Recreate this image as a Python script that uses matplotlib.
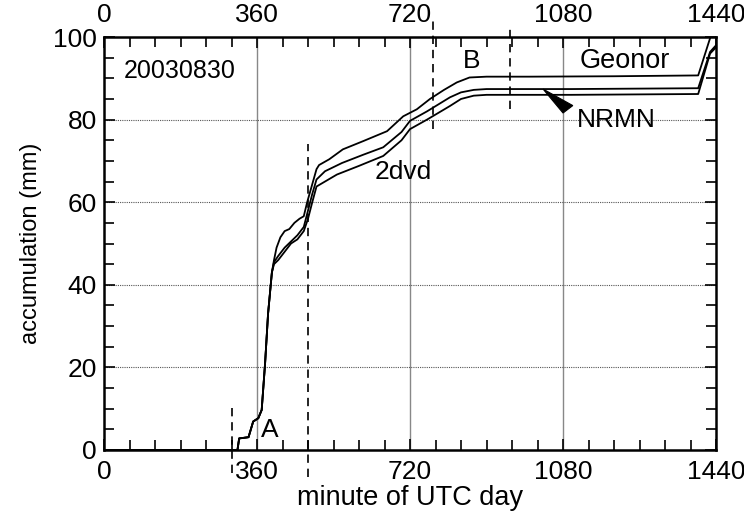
import matplotlib
matplotlib.use("Agg")
import matplotlib.pyplot as plt
from matplotlib.ticker import MultipleLocator
from matplotlib.patches import Polygon

plt.rcParams['font.family'] = ['Liberation Sans', 'DejaVu Sans']

# ---- data (minute of UTC day, accumulation mm) ----
t_start = [0, 314, 318, 340, 351, 363, 371, 379, 386, 395]
v_start = [0, 0, 2.8, 3.1, 6.9, 7.7, 9.7, 21, 33, 43]

t_geonor = [400, 406, 415, 425, 436, 448, 460, 470, 478, 489, 500, 506, 530, 562,
            610, 666, 704, 736, 767, 800, 830, 860, 900, 1000, 1200, 1398, 1430]
v_geonor = [46, 49, 51.5, 53, 53.5, 55, 56, 56.6, 60, 64, 68, 69, 70.4, 72.8,
            74.8, 77.2, 80.8, 82.5, 85, 87.2, 89, 90.2, 90.4, 90.4, 90.5, 90.7, 101]

t_nrmn = [400, 410, 425, 440, 455, 470, 480, 490, 500, 520, 560, 610, 657, 700,
          720, 760, 814, 840, 870, 900, 1100, 1398, 1426, 1440]
v_nrmn = [45.5, 47, 49, 50.5, 52, 54, 58, 62, 65.5, 67.5, 69.5, 71.5, 73.3, 77,
          79.7, 82, 85.4, 86.6, 87.2, 87.4, 87.4, 87.6, 96.4, 98]

t_2dvd = [400, 410, 425, 440, 455, 470, 480, 490, 500, 548, 600, 657, 700,
          720, 760, 814, 840, 870, 900, 1100, 1398, 1426, 1440]
v_2dvd = [45, 46, 48, 50, 51, 53, 56, 60, 63.8, 66.7, 68.8, 71.2, 75,
          77.7, 80, 83.3, 85, 85.8, 86, 86, 86.2, 96, 97.5]

# event boundary markers (minute, y bottom, y top)
event_minutes = [300, 480, 773, 956]
event_ybottom = [-5.5, -6.5, 77.7, 82.5]
event_ytop = [10.2, 74, 104.6, 103]

xticks = [0, 360, 720, 1080, 1440]
yticks = [0, 20, 40, 60, 80, 100]

fig = plt.figure(figsize=(7.44, 5.17), dpi=100)
ax = fig.add_axes([0.1398, 0.1296, 0.8226, 0.7988])

# grid
for xv in [360, 720, 1080]:
    ax.axvline(xv, color='#888888', lw=1.0, zorder=1)
for yv in [20, 40, 60, 80]:
    ax.axhline(yv, color='#555555', lw=0.8, ls=(0, (1, 1)), zorder=1)

for t, v in [(t_geonor, v_geonor), (t_nrmn, v_nrmn), (t_2dvd, v_2dvd)]:
    ax.plot(t_start + t, v_start + v, color='black', lw=1.3, zorder=3)

for xm, yb, yt in zip(event_minutes, event_ybottom, event_ytop):
    ax.plot([xm, xm], [yb, yt], color='black', lw=1.2, ls=(0, (5, 3.5)),
            clip_on=False, zorder=4)

ax.set_xlim(0, 1440)
ax.set_ylim(0, 100)
ax.set_xticks(xticks)
ax.set_yticks(yticks)
ax.xaxis.set_minor_locator(MultipleLocator(60))
ax.yaxis.set_minor_locator(MultipleLocator(5))
ax.tick_params(which='both', direction='in', top=True, right=True,
               labeltop=True, labelsize=19, width=1.2)
ax.tick_params(which='major', length=8)
ax.tick_params(which='minor', length=7)
ax.tick_params(axis='x', pad=7)
ax.tick_params(axis='y', pad=5)
for s in ax.spines.values():
    s.set_linewidth(1.8)

ax.set_xlabel('minute of UTC day', fontsize=19.5, labelpad=1)
ax.set_ylabel('accumulation (mm)', fontsize=17, labelpad=8)

ax.text(179, 91.7, '20030830', fontsize=18, ha='center', va='center')
ax.text(1226, 94.2, 'Geonor', fontsize=19.5, ha='center', va='center')
ax.text(703, 67.2, '2dvd', fontsize=19, ha='center', va='center')
ax.text(390, 4.9, 'A', fontsize=19, ha='center', va='center')
ax.text(866, 94.2, 'B', fontsize=19, ha='center', va='center')
ax.text(1205, 80, 'NRMN', fontsize=19, ha='center', va='center')
# pointer wedge from the NRMN label to its curve
ax.add_patch(Polygon([(1033, 87.4), (1103, 83.4), (1080, 81.6)], closed=True,
                     fc='black', ec='black', lw=0.8, zorder=5))

fig.savefig('out.png', dpi=100)
